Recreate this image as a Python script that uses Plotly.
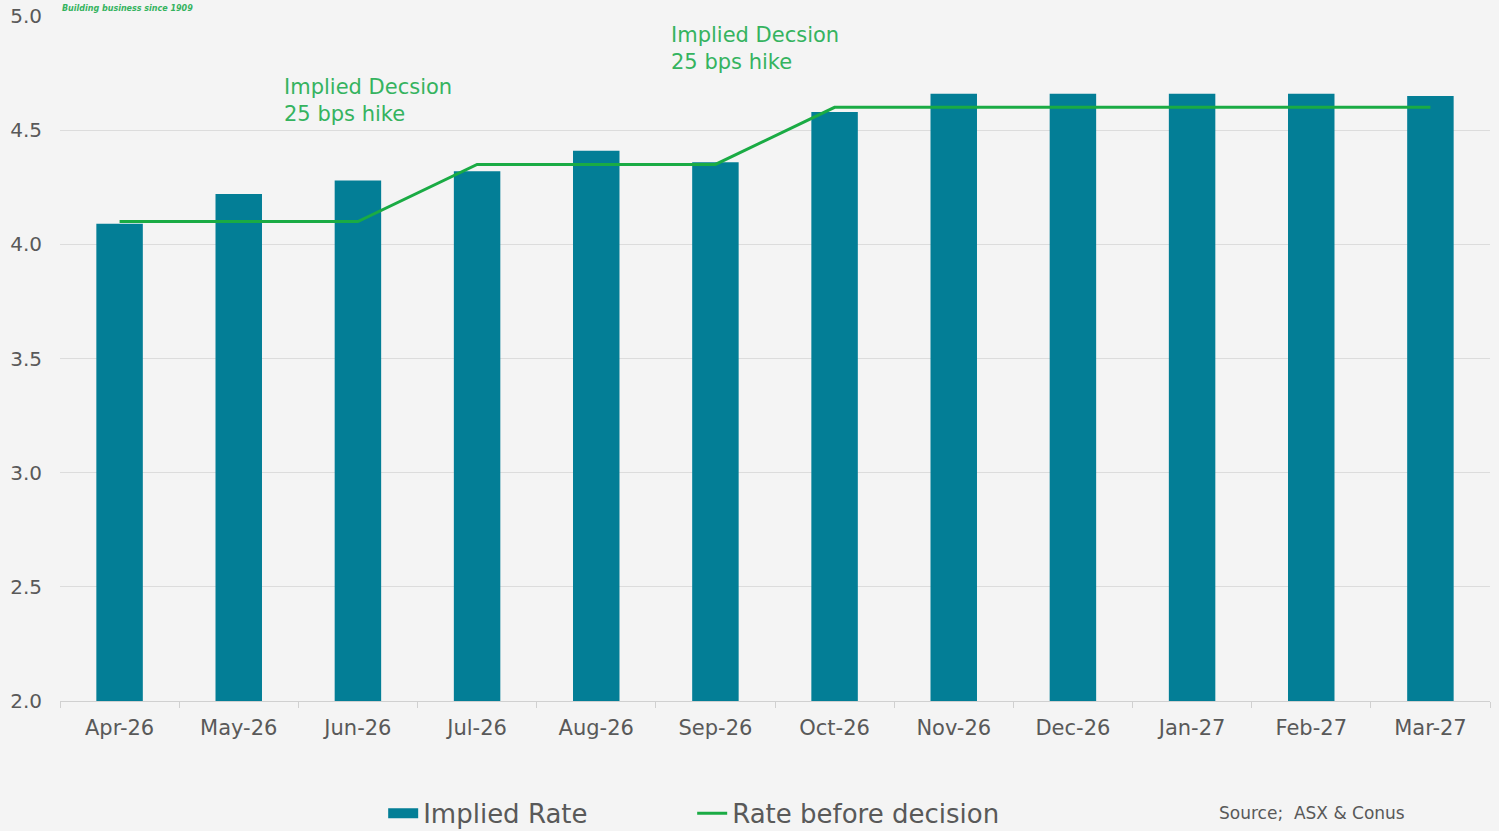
import plotly.graph_objects as go

months = ["Apr-26", "May-26", "Jun-26", "Jul-26", "Aug-26", "Sep-26",
          "Oct-26", "Nov-26", "Dec-26", "Jan-27", "Feb-27", "Mar-27"]
implied_rate = [4.09, 4.22, 4.28, 4.32, 4.41, 4.36, 4.58, 4.66, 4.66, 4.66, 4.66, 4.65]
rate_before = [4.10, 4.10, 4.10, 4.35, 4.35, 4.35, 4.60, 4.60, 4.60, 4.60, 4.60, 4.60]
y_ticks = [2.0, 2.5, 3.0, 3.5, 4.0, 4.5, 5.0]

TEAL = "#037e96"
GREEN = "#1aab44"
TEXT_GREEN = "#35b35f"
GREY = "#595959"
BG = "#f4f4f4"
FONT = "'DejaVu Sans', 'Open Sans', sans-serif"

fig = go.Figure()
fig.add_trace(go.Bar(x=months, y=implied_rate, name="Implied Rate", showlegend=False,
                     marker=dict(color=TEAL, line=dict(width=0))))
# legend entry for the bars drawn as a wide block (like the reference)
fig.add_trace(go.Scatter(x=[None], y=[None], name="Implied Rate", mode="lines",
                         line=dict(color=TEAL, width=12), showlegend=True))
fig.add_trace(go.Scatter(x=months, y=rate_before, name="Rate before decision",
                         mode="lines", line=dict(color=GREEN, width=3)))

fig.add_annotation(x=0.155, y=0.877, xref="paper", yref="paper", xanchor="left", yanchor="middle",
                   text="Implied Decsion<br>25 bps hike", showarrow=False, align="left",
                   font=dict(size=21, color=TEXT_GREEN, family=FONT))
fig.add_annotation(x=0.426, y=0.953, xref="paper", yref="paper", xanchor="left", yanchor="middle",
                   text="Implied Decsion<br>25 bps hike", showarrow=False, align="left",
                   font=dict(size=21, color=TEXT_GREEN, family=FONT))
fig.add_annotation(x=1.0, y=-0.164, xref="paper", yref="paper", xanchor="right", yanchor="middle",
                   text="Source;  ASX &amp; Conus", showarrow=False,
                   font=dict(size=17, color=GREY, family=FONT), xshift=-83)
fig.add_annotation(x=0.0, y=1.0, xref="paper", yref="paper", xanchor="left", yanchor="bottom",
                   text="<i><b>Building business since 1909</b></i>", showarrow=False,
                   font=dict(size=8, color=TEXT_GREEN, family=FONT), yshift=1)

fig.update_layout(
    width=1499, height=831,
    paper_bgcolor=BG, plot_bgcolor=BG,
    margin=dict(l=60, r=9, t=16, b=130, autoexpand=False),
    bargap=0.61,
    font=dict(family=FONT, color=GREY, size=20),
    showlegend=True,
    legend=dict(orientation="h", x=0.226, xanchor="left", y=-0.164, yanchor="middle",
                font=dict(size=26, color=GREY, family=FONT), bgcolor="rgba(0,0,0,0)",
                entrywidth=264, entrywidthmode="pixels", traceorder="normal"),
    xaxis=dict(showgrid=False, showline=True, linecolor="#d0d0d0", linewidth=1,
               ticks="outside", tickson="boundaries", ticklen=6, tickcolor="#d0d0d0",
               ticklabelstandoff=8,
               tickfont=dict(size=21, color=GREY, family=FONT)),
    yaxis=dict(range=[2, 5], tickvals=y_ticks, ticktext=[f"{v:.1f}" for v in y_ticks],
               showgrid=True, gridcolor="#dcdcdc", gridwidth=1, zeroline=False,
               showline=False, ticks="", ticklabelstandoff=17,
               tickfont=dict(size=20, color=GREY, family=FONT)),
)

fig.write_html("out.html")
